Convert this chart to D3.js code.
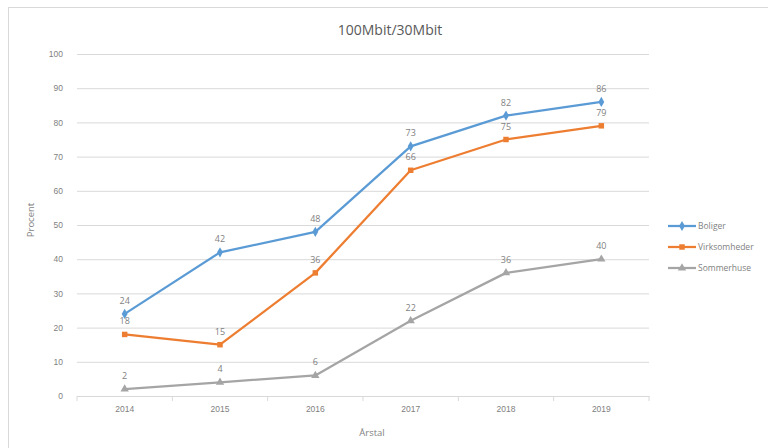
<!DOCTYPE html>
<html>
<head>
<meta charset="utf-8">
<script src="https://cdn.jsdelivr.net/npm/d3@7"></script>
<style>
  body { margin: 0; background: #fff; }
  svg { display: block; font-family: "Open Sans", "Liberation Sans", sans-serif; }
  .grid line { stroke: #d9d9d9; stroke-width: 1; }
  .grid path { display: none; }
  .tick text { fill: #7f7f7f; font-size: 8.5px; }
</style>
</head>
<body>
<div id="chart"></div>
<script>
const years = ['2014', '2015', '2016', '2017', '2018', '2019'];
const boliger = [24, 42, 48, 73, 82, 86];
const virksomheder = [18, 15, 36, 66, 75, 79];
const sommerhuse = [2, 4, 6, 22, 36, 40];
const yTicks = [0, 10, 20, 30, 40, 50, 60, 70, 80, 90, 100];

const series = [
    { name: 'Boliger', values: boliger, color: '#5b9bd5', symbol: d3.symbolDiamond },
    { name: 'Virksomheder', values: virksomheder, color: '#ed7d31', symbol: d3.symbolSquare },
    { name: 'Sommerhuse', values: sommerhuse, color: '#a5a5a5', symbol: d3.symbolTriangle }
];

const W = 768, H = 448;
const plot = { left: 77, right: 649, top: 54, bottom: 396 };

const svg = d3.select('#chart').append('svg')
    .attr('width', W)
    .attr('height', H);

// chart frame
svg.append('rect')
    .attr('x', 8.5).attr('y', 7.5)
    .attr('width', W + 20).attr('height', H + 20)
    .attr('fill', 'none')
    .attr('stroke', '#d9d9d9');

const x = d3.scaleBand()
    .domain(years)
    .range([plot.left, plot.right]);

const y = d3.scaleLinear()
    .domain([0, 100])
    .range([plot.bottom, plot.top]);

// gridlines + y labels
svg.append('g')
    .attr('class', 'grid')
    .attr('transform', `translate(${plot.left},0)`)
    .call(d3.axisLeft(y)
        .tickValues(yTicks)
        .tickSize(-(plot.right - plot.left))
        .tickPadding(14))
    .call(g => g.select('.domain').remove());

// x axis
const xAxis = svg.append('g')
    .attr('transform', `translate(0,${plot.bottom})`)
    .call(d3.axisBottom(x).tickSize(0).tickPadding(10));
xAxis.select('.domain').attr('stroke', '#d9d9d9');
xAxis.selectAll('.tick line').remove();

// ticks between categories
const bounds = years.map(d => x(d)).concat([plot.right]);
xAxis.selectAll('.sep')
    .data(bounds)
    .enter().append('line')
    .attr('x1', d => d).attr('x2', d => d)
    .attr('y1', 0).attr('y2', 5)
    .attr('stroke', '#d9d9d9');

const cx = d => x(d) + x.bandwidth() / 2;

const line = d3.line()
    .x((d, i) => cx(years[i]))
    .y(d => y(d));

series.forEach(s => {
    svg.append('path')
        .datum(s.values)
        .attr('fill', 'none')
        .attr('stroke', s.color)
        .attr('stroke-width', 2.25)
        .attr('stroke-linejoin', 'round')
        .attr('d', line);

    svg.selectAll(null)
        .data(s.values)
        .enter().append('path')
        .attr('transform', (d, i) => `translate(${cx(years[i])},${y(d)})`)
        .attr('d', d3.symbol().type(s.symbol).size(30))
        .attr('fill', s.color);

    svg.selectAll(null)
        .data(s.values)
        .enter().append('text')
        .attr('x', (d, i) => cx(years[i]))
        .attr('y', d => y(d) - 10)
        .attr('text-anchor', 'middle')
        .attr('fill', '#7f7f7f')
        .style('font-size', '9px')
        .text(d => d);
});

// title
svg.append('text')
    .attr('x', 390).attr('y', 35)
    .attr('text-anchor', 'middle')
    .attr('fill', '#595959')
    .style('font-size', '14px')
    .text('100Mbit/30Mbit');

// axis titles
svg.append('text')
    .attr('transform', 'translate(34,220) rotate(-90)')
    .attr('text-anchor', 'middle')
    .attr('fill', '#7f7f7f')
    .style('font-size', '9.5px')
    .text('Procent');

svg.append('text')
    .attr('x', 372).attr('y', 436)
    .attr('text-anchor', 'middle')
    .attr('fill', '#7f7f7f')
    .style('font-size', '9.5px')
    .text('Årstal');

// legend
const legend = svg.append('g')
    .attr('transform', 'translate(668,226)');

series.forEach((s, i) => {
    const g = legend.append('g').attr('transform', `translate(0,${i * 21})`);
    g.append('line')
        .attr('x1', 0).attr('x2', 28)
        .attr('stroke', s.color)
        .attr('stroke-width', 2.25);
    g.append('path')
        .attr('transform', 'translate(14,0)')
        .attr('d', d3.symbol().type(s.symbol).size(30))
        .attr('fill', s.color);
    g.append('text')
        .attr('x', 30).attr('y', 3)
        .attr('fill', '#7f7f7f')
        .style('font-size', '8.5px')
        .text(s.name);
});
</script>
</body>
</html>
